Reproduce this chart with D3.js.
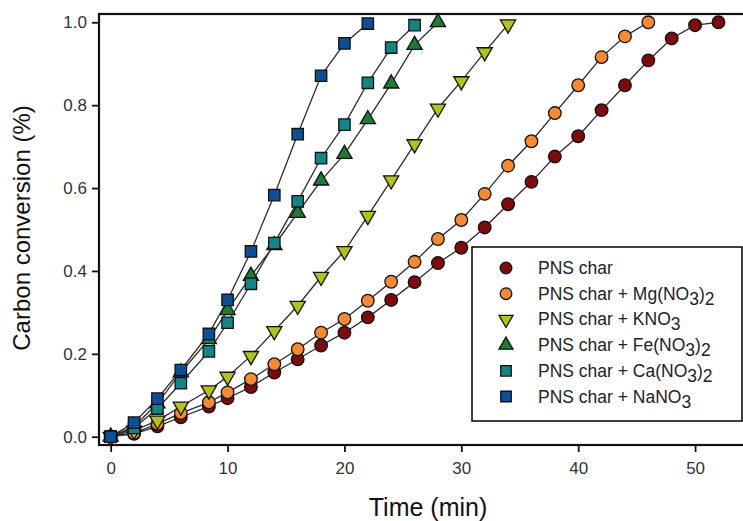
<!DOCTYPE html>
<html>
<head>
<meta charset="utf-8">
<script src="https://cdn.jsdelivr.net/npm/d3@7"></script>
<style>
  body { margin: 0; background: #fff; }
  text { font-family: "Liberation Sans", Arial, sans-serif; }
</style>
</head>
<body>
<div class="canvas"></div>
<script>
// data
const times = [0, 2, 4, 6, 8.4, 10, 12, 14, 16, 18, 20, 22, 24, 26, 28, 30, 32, 34, 36, 38, 40, 42, 44, 46, 48, 50, 52];
const pnsChar = [0, 0.007, 0.025, 0.047, 0.073, 0.093, 0.12, 0.155, 0.187, 0.22, 0.251, 0.288, 0.33, 0.373, 0.419, 0.456, 0.505, 0.561, 0.615, 0.676, 0.725, 0.788, 0.848, 0.908, 0.961, 0.993, 1.0];
const pnsMg = [0, 0.009, 0.031, 0.057, 0.083, 0.107, 0.139, 0.175, 0.211, 0.251, 0.284, 0.328, 0.374, 0.422, 0.477, 0.523, 0.586, 0.654, 0.713, 0.781, 0.848, 0.916, 0.966, 1.0];
const pnsK = [0, 0.015, 0.039, 0.073, 0.112, 0.145, 0.195, 0.255, 0.316, 0.386, 0.448, 0.533, 0.619, 0.706, 0.792, 0.858, 0.928, 0.995];
const pnsFe = [0, 0.025, 0.08, 0.155, 0.235, 0.305, 0.388, 0.462, 0.54, 0.618, 0.682, 0.766, 0.852, 0.945, 1.0];
const pnsCa = [0, 0.021, 0.068, 0.129, 0.206, 0.275, 0.369, 0.467, 0.568, 0.672, 0.753, 0.854, 0.939, 0.993];
const pnsNa = [0, 0.034, 0.092, 0.161, 0.248, 0.33, 0.447, 0.583, 0.73, 0.871, 0.949, 0.997];

const xTicks = [0, 10, 20, 30, 40, 50];
const yTicks = [0, 0.2, 0.4, 0.6, 0.8, 1.0];

const series = [
  { name: ['PNS char'], values: pnsChar, color: '#7d0a0f', shape: 'circle' },
  { name: ['PNS char + Mg(NO', '3', ')', '2'], values: pnsMg, color: '#f58a34', shape: 'circle' },
  { name: ['PNS char + KNO', '3'], values: pnsK, color: '#b4c21d', shape: 'down' },
  { name: ['PNS char + Fe(NO', '3', ')', '2'], values: pnsFe, color: '#1f7a35', shape: 'up' },
  { name: ['PNS char + Ca(NO', '3', ')', '2'], values: pnsCa, color: '#138585', shape: 'square' },
  { name: ['PNS char + NaNO', '3'], values: pnsNa, color: '#0d4f96', shape: 'square' }
];

const canvasWidth = 743;
const canvasHeight = 521;

const svg = d3
  .select('.canvas')
  .append('svg')
  .attr('width', canvasWidth)
  .attr('height', canvasHeight);

// scales
const x = d3.scaleLinear().domain([-1, 54.1]).range([99, 743]);
const y = d3.scaleLinear().domain([-0.02, 1.02]).range([445, 14]);

// frame (right side falls outside the canvas)
svg
  .append('rect')
  .attr('x', 99)
  .attr('y', 14)
  .attr('width', 660)
  .attr('height', 431)
  .attr('fill', 'none')
  .attr('stroke', '#111')
  .attr('stroke-width', 2.2);

// axes
const xAxis = d3.axisBottom(x).tickValues(xTicks).tickSize(7).tickPadding(10).tickFormat(d3.format('d'));
const yAxis = d3.axisLeft(y).tickValues(yTicks).tickSize(7).tickPadding(5).tickFormat(d3.format('.1f'));

const xAxisGroup = svg.append('g').attr('transform', 'translate(0, 445)').call(xAxis);
const yAxisGroup = svg.append('g').attr('transform', 'translate(99, 0)').call(yAxis);

[xAxisGroup, yAxisGroup].forEach(g => {
  g.select('.domain').remove();
  g.selectAll('line').attr('stroke', '#111').attr('stroke-width', 1.8);
  g.selectAll('text')
    .attr('fill', '#333')
    .style('font-size', '17px')
    .style('font-family', '"Liberation Sans", Arial, sans-serif');
});

// axis titles
svg
  .append('text')
  .attr('x', 428)
  .attr('y', 516)
  .attr('text-anchor', 'middle')
  .attr('fill', '#111')
  .style('font-size', '25px')
  .text('Time (min)');

svg
  .append('text')
  .attr('transform', 'translate(30, 228) rotate(-90)')
  .attr('text-anchor', 'middle')
  .attr('fill', '#111')
  .style('font-size', '24px')
  .text('Carbon conversion (%)');

// marker generator
const symbolFor = (shape, k = 1) => {
  if (shape === 'circle') return d3.symbol(d3.symbolCircle, 125 * k)();
  if (shape === 'square') return d3.symbol(d3.symbolSquare, 130 * k)();
  return d3.symbol(d3.symbolTriangle, 100 * k)();
};

const line = d3
  .line()
  .x((d, i) => x(times[i]))
  .y(d => y(d));

const plot = svg.append('g');

series.forEach(s => {
  const g = plot.append('g');
  g.append('path')
    .datum(s.values)
    .attr('fill', 'none')
    .attr('stroke', '#2a2a2a')
    .attr('stroke-width', 1.3)
    .attr('d', line);

  g.selectAll('path.mark')
    .data(s.values)
    .enter()
    .append('path')
    .attr('class', 'mark')
    .attr('d', symbolFor(s.shape))
    .attr('transform', (d, i) =>
      `translate(${x(times[i])}, ${y(d)})` + (s.shape === 'down' ? ' rotate(180)' : ''))
    .attr('fill', s.color)
    .attr('stroke', '#111')
    .attr('stroke-width', 1.3);
});

// legend
const legend = svg.append('g');
legend
  .append('rect')
  .attr('x', 472)
  .attr('y', 247)
  .attr('width', 270)
  .attr('height', 174)
  .attr('fill', '#fff')
  .attr('stroke', '#111')
  .attr('stroke-width', 1.6);

series.forEach((s, i) => {
  const cy = 268 + i * 25.7;
  legend
    .append('path')
    .attr('d', symbolFor(s.shape, 0.85))
    .attr('transform', `translate(506, ${cy})` + (s.shape === 'down' ? ' rotate(180)' : ''))
    .attr('fill', s.color)
    .attr('stroke', '#111')
    .attr('stroke-width', 1.3);

  const t = legend
    .append('text')
    .attr('x', 538)
    .attr('y', cy + 6)
    .attr('fill', '#222')
    .style('font-size', '17.5px');

  s.name.forEach((part, j) => {
    const sub = part === '3' || part === '2';
    const prevSub = j > 0 && (s.name[j - 1] === '3' || s.name[j - 1] === '2');
    let dy = 0;
    if (sub && !prevSub) dy = 5;
    if (!sub && prevSub) dy = -5;
    t.append('tspan').attr('dy', dy).text(part);
  });
});
</script>
</body>
</html>
